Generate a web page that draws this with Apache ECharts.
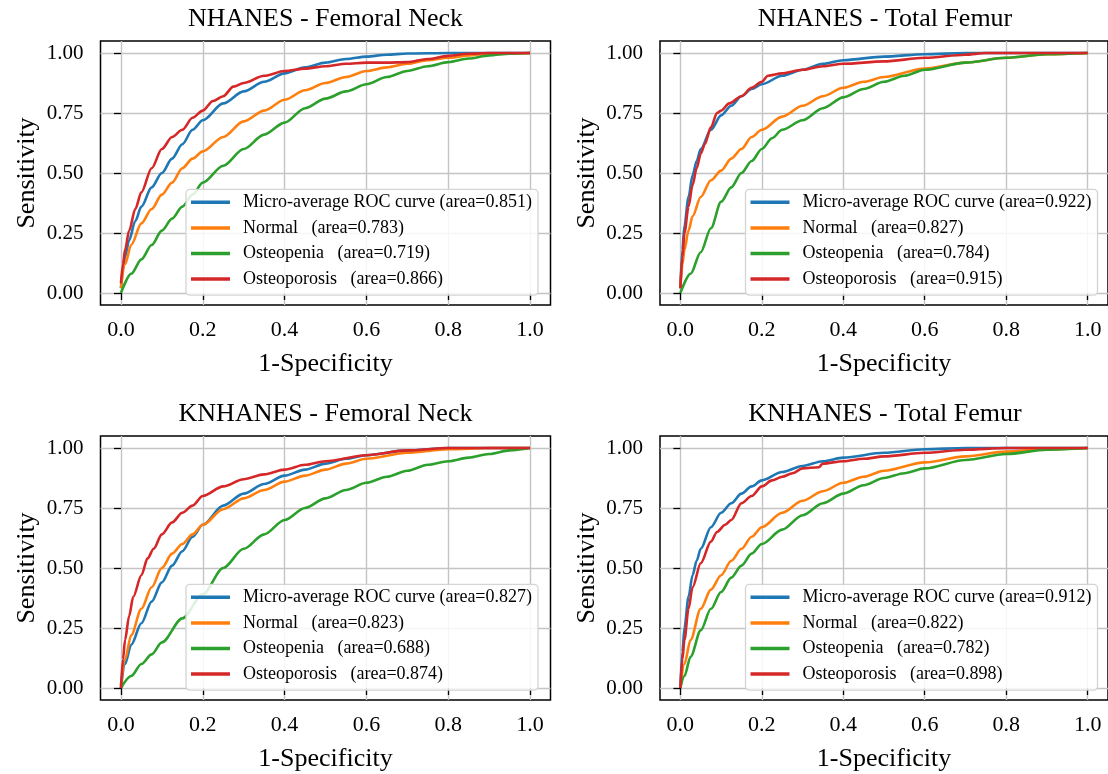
<!DOCTYPE html>
<html>
<head>
<meta charset="utf-8">
<script src="https://cdn.jsdelivr.net/npm/echarts@6/dist/echarts.min.js"></script>
<style>
  html, body { margin: 0; padding: 0; background: #fff; }
  #chart { width: 1108px; height: 774px; }
</style>
</head>
<body>
<div id="chart"></div>
<script>
// tick positions
const xTicks = [0, 0.2, 0.4, 0.6, 0.8, 1.0];
const yTicks = [0, 0.25, 0.5, 0.75, 1.0];

const panelTitles = [
    "NHANES - Femoral Neck",
    "NHANES - Total Femur",
    "KNHANES - Femoral Neck",
    "KNHANES - Total Femur"
];

const classNames = ["Micro-average ROC curve", "Normal", "Osteopenia", "Osteoporosis"];
const classColors = ["#1f77b4", "#ff7f0e", "#2ca02c", "#d62728"];

// areas per panel, same order as classNames
const areas = [
    [0.851, 0.783, 0.719, 0.866],
    [0.922, 0.827, 0.784, 0.915],
    [0.827, 0.823, 0.688, 0.874],
    [0.912, 0.822, 0.782, 0.898]
];

// NHANES - Femoral Neck
const nhFnMicro = [[0,0.02],[0.005,0.1],[0.01,0.15],[0.02,0.22],[0.035,0.3],[0.05,0.36],[0.075,0.44],[0.1,0.5],[0.125,0.56],[0.15,0.62],[0.175,0.68],[0.2,0.72],[0.25,0.79],[0.3,0.84],[0.35,0.88],[0.4,0.915],[0.45,0.94],[0.5,0.96],[0.55,0.975],[0.6,0.985],[0.65,0.993],[0.7,0.998],[0.8,1],[1,1]];
const nhFnNormal = [[0,0.02],[0.01,0.12],[0.025,0.2],[0.05,0.29],[0.075,0.35],[0.1,0.41],[0.125,0.46],[0.15,0.52],[0.175,0.56],[0.2,0.59],[0.25,0.65],[0.3,0.715],[0.35,0.76],[0.4,0.805],[0.45,0.845],[0.5,0.875],[0.55,0.9],[0.6,0.925],[0.65,0.94],[0.7,0.955],[0.75,0.97],[0.8,0.98],[0.85,0.99],[0.9,0.997],[1,1]];
const nhFnOsteopenia = [[0,0],[0.025,0.08],[0.05,0.14],[0.075,0.2],[0.1,0.26],[0.125,0.31],[0.15,0.36],[0.175,0.41],[0.2,0.46],[0.25,0.53],[0.3,0.6],[0.35,0.66],[0.4,0.71],[0.45,0.77],[0.5,0.81],[0.55,0.84],[0.6,0.87],[0.65,0.9],[0.7,0.925],[0.75,0.945],[0.8,0.962],[0.85,0.977],[0.9,0.99],[0.95,0.997],[1,1]];
const nhFnOsteoporosis = [[0,0.04],[0.005,0.12],[0.01,0.18],[0.02,0.26],[0.035,0.35],[0.05,0.42],[0.075,0.52],[0.1,0.6],[0.125,0.65],[0.15,0.68],[0.175,0.73],[0.2,0.76],[0.225,0.8],[0.25,0.82],[0.275,0.86],[0.3,0.875],[0.35,0.905],[0.4,0.925],[0.45,0.935],[0.5,0.945],[0.55,0.955],[0.6,0.96],[0.65,0.96],[0.7,0.962],[0.75,0.975],[0.8,0.988],[0.85,0.997],[0.9,1],[1,1]];

// NHANES - Total Femur
const nhTfMicro = [[0,0.02],[0.005,0.18],[0.01,0.28],[0.02,0.4],[0.03,0.49],[0.04,0.55],[0.05,0.6],[0.075,0.68],[0.1,0.74],[0.125,0.78],[0.15,0.82],[0.175,0.85],[0.2,0.87],[0.25,0.905],[0.3,0.93],[0.35,0.955],[0.4,0.97],[0.5,0.985],[0.6,0.995],[0.7,1],[1,1]];
const nhTfNormal = [[0,0.02],[0.005,0.12],[0.01,0.18],[0.02,0.26],[0.03,0.32],[0.05,0.4],[0.075,0.47],[0.1,0.51],[0.125,0.56],[0.15,0.6],[0.175,0.65],[0.2,0.68],[0.25,0.735],[0.3,0.78],[0.35,0.82],[0.4,0.855],[0.45,0.88],[0.5,0.9],[0.6,0.935],[0.7,0.96],[0.8,0.98],[0.9,0.995],[1,1]];
const nhTfOsteopenia = [[0,0],[0.025,0.08],[0.05,0.17],[0.075,0.27],[0.1,0.38],[0.125,0.44],[0.15,0.5],[0.175,0.55],[0.2,0.6],[0.225,0.645],[0.25,0.68],[0.3,0.72],[0.35,0.77],[0.4,0.815],[0.45,0.85],[0.5,0.88],[0.55,0.905],[0.6,0.93],[0.7,0.96],[0.8,0.98],[0.9,0.995],[1,1]];
const nhTfOsteoporosis = [[0,0.02],[0.005,0.15],[0.01,0.25],[0.02,0.36],[0.03,0.45],[0.04,0.52],[0.05,0.58],[0.06,0.62],[0.075,0.69],[0.09,0.75],[0.1,0.76],[0.12,0.79],[0.15,0.82],[0.175,0.855],[0.2,0.88],[0.215,0.905],[0.25,0.915],[0.3,0.93],[0.35,0.945],[0.4,0.955],[0.5,0.965],[0.6,0.98],[0.7,0.993],[0.75,1],[1,1]];

// KNHANES - Femoral Neck
const knFnMicro = [[0,0],[0.01,0.1],[0.025,0.18],[0.05,0.27],[0.075,0.36],[0.1,0.44],[0.125,0.51],[0.15,0.57],[0.175,0.63],[0.2,0.68],[0.25,0.76],[0.3,0.81],[0.35,0.85],[0.4,0.885],[0.45,0.91],[0.5,0.935],[0.55,0.955],[0.6,0.97],[0.7,0.99],[0.8,1],[1,1]];
const knFnNormal = [[0,0.01],[0.01,0.12],[0.025,0.22],[0.05,0.33],[0.075,0.42],[0.1,0.5],[0.125,0.56],[0.15,0.6],[0.175,0.64],[0.2,0.68],[0.25,0.745],[0.3,0.79],[0.35,0.825],[0.4,0.86],[0.45,0.885],[0.5,0.91],[0.55,0.935],[0.6,0.955],[0.7,0.98],[0.8,0.995],[0.9,1],[1,1]];
const knFnOsteopenia = [[0,0],[0.025,0.05],[0.05,0.1],[0.075,0.14],[0.1,0.19],[0.15,0.29],[0.2,0.39],[0.25,0.5],[0.3,0.58],[0.35,0.64],[0.4,0.7],[0.45,0.75],[0.5,0.79],[0.55,0.825],[0.6,0.855],[0.65,0.88],[0.7,0.905],[0.75,0.93],[0.8,0.945],[0.85,0.96],[0.9,0.975],[0.95,0.99],[1,1]];
const knFnOsteoporosis = [[0,0],[0.005,0.12],[0.01,0.2],[0.02,0.3],[0.03,0.38],[0.05,0.47],[0.065,0.54],[0.08,0.58],[0.1,0.64],[0.125,0.69],[0.15,0.73],[0.175,0.76],[0.2,0.8],[0.25,0.84],[0.3,0.87],[0.35,0.89],[0.4,0.91],[0.45,0.93],[0.5,0.945],[0.6,0.97],[0.7,0.99],[0.8,1],[1,1]];

// KNHANES - Total Femur
const knTfMicro = [[0,0],[0.005,0.15],[0.01,0.25],[0.02,0.38],[0.03,0.47],[0.04,0.53],[0.05,0.58],[0.075,0.67],[0.1,0.73],[0.125,0.77],[0.15,0.81],[0.175,0.84],[0.2,0.865],[0.25,0.9],[0.3,0.925],[0.35,0.945],[0.4,0.96],[0.5,0.98],[0.6,0.995],[0.7,1],[1,1]];
const knTfNormal = [[0,0],[0.01,0.1],[0.025,0.2],[0.05,0.33],[0.075,0.41],[0.1,0.47],[0.125,0.53],[0.15,0.58],[0.175,0.63],[0.2,0.67],[0.25,0.73],[0.3,0.78],[0.35,0.82],[0.4,0.855],[0.45,0.88],[0.5,0.905],[0.6,0.94],[0.7,0.965],[0.8,0.985],[0.9,0.995],[1,1]];
const knTfOsteopenia = [[0,0],[0.01,0.05],[0.025,0.13],[0.05,0.24],[0.075,0.33],[0.1,0.4],[0.125,0.46],[0.15,0.51],[0.175,0.56],[0.2,0.6],[0.25,0.66],[0.3,0.72],[0.35,0.77],[0.4,0.81],[0.45,0.845],[0.5,0.875],[0.55,0.895],[0.6,0.915],[0.7,0.95],[0.8,0.975],[0.9,0.993],[1,1]];
const knTfOsteoporosis = [[0,0],[0.005,0.12],[0.01,0.2],[0.02,0.33],[0.03,0.42],[0.05,0.52],[0.075,0.61],[0.09,0.65],[0.11,0.68],[0.125,0.7],[0.15,0.77],[0.175,0.8],[0.2,0.84],[0.225,0.865],[0.25,0.88],[0.275,0.895],[0.3,0.915],[0.34,0.92],[0.35,0.935],[0.4,0.945],[0.45,0.955],[0.5,0.965],[0.6,0.98],[0.7,0.993],[0.8,1],[1,1]];

const panelCurves = [
    [nhFnMicro, nhFnNormal, nhFnOsteopenia, nhFnOsteoporosis],
    [nhTfMicro, nhTfNormal, nhTfOsteopenia, nhTfOsteoporosis],
    [knFnMicro, knFnNormal, knFnOsteopenia, knFnOsteoporosis],
    [knTfMicro, knTfNormal, knTfOsteopenia, knTfOsteoporosis]
];

const FONT = "'Liberation Serif', 'Times New Roman', serif";
const panelBoxes = [
    { left: 100.5, top: 41 },
    { left: 660, top: 41 },
    { left: 100.5, top: 436 },
    { left: 660, top: 436 }
];
const PW = 450;
const PH = 264;

function labelFor(cls, area) {
    const gap = cls.startsWith("Micro") ? " " : "   ";
    return `${cls}${gap}(area=${area.toFixed(3)})`;
}

const grids = [];
const xAxes = [];
const yAxes = [];
const legends = [];
const titles = [];
const series = [];

panelBoxes.forEach((box, i) => {
    grids.push({
        left: box.left,
        top: box.top,
        width: PW,
        height: PH,
        show: true,
        borderColor: "#000",
        borderWidth: 1.5,
        backgroundColor: "transparent"
    });

    xAxes.push({
        type: "value",
        gridIndex: i,
        min: -0.05,
        max: 1.05,
        axisLine: { show: false },
        axisTick: {
            show: true,
            length: 7,
            customValues: xTicks,
            lineStyle: { color: "#000", width: 1.3 }
        },
        axisLabel: {
            customValues: xTicks,
            formatter: (v) => v.toFixed(1),
            fontFamily: FONT,
            fontSize: 22,
            color: "#000",
            margin: 14
        },
        splitLine: { show: true, lineStyle: { color: "#c4c4c4", width: 1.4 } },
        name: "1-Specificity",
        nameLocation: "middle",
        nameGap: 46,
        nameTextStyle: { fontFamily: FONT, fontSize: 26, color: "#000" }
    });

    yAxes.push({
        type: "value",
        gridIndex: i,
        min: -0.05,
        max: 1.05,
        axisLine: { show: false },
        axisTick: {
            show: true,
            length: 7,
            customValues: yTicks,
            lineStyle: { color: "#000", width: 1.3 }
        },
        axisLabel: {
            customValues: yTicks,
            formatter: (v) => v.toFixed(2),
            fontFamily: FONT,
            fontSize: 21,
            color: "#000",
            margin: 17
        },
        splitLine: { show: true, lineStyle: { color: "#c4c4c4", width: 1.4 } },
        name: "Sensitivity",
        nameLocation: "middle",
        nameGap: 60,
        nameRotate: 90,
        nameTextStyle: { fontFamily: FONT, fontSize: 26, color: "#000" }
    });

    titles.push({
        type: "text",
        x: box.left + PW / 2,
        y: box.top - 22,
        style: {
            text: panelTitles[i],
            fontFamily: FONT,
            fontSize: 26,
            fill: "#000",
            textAlign: "center",
            textVerticalAlign: "middle"
        }
    });

    const names = [];
    panelCurves[i].forEach((curve, k) => {
        const name = labelFor(classNames[k], areas[i][k]);
        names.push(name);
        series.push({
            name,
            type: "line",
            xAxisIndex: i,
            yAxisIndex: i,
            data: curve,
            symbol: "none",
            showSymbol: false,
            smooth: 0.3,
            smoothMonotone: "x",
            color: classColors[k],
            lineStyle: { color: classColors[k], width: 2.6 },
            emphasis: { disabled: true },
            animation: false
        });
    });

    legends.push({
        orient: "vertical",
        left: box.left + 85.5,
        top: box.top + 148.3,
        data: names,
        icon: "rect",
        itemWidth: 39,
        itemHeight: 3.5,
        itemGap: 7.6,
        padding: [4, 6, 7, 5],
        backgroundColor: "rgba(255,255,255,0.85)",
        borderColor: "#d4d4d4",
        borderWidth: 1.3,
        borderRadius: 4,
        selectedMode: false,
        textStyle: {
            fontFamily: FONT,
            fontSize: 18,
            lineHeight: 18,
            color: "#000",
            padding: [0, 0, 0, 8]
        }
    });
});

const chart = echarts.init(document.getElementById("chart"), null, { renderer: "canvas" });
chart.setOption({
    backgroundColor: "#fff",
    animation: false,
    grid: grids,
    xAxis: xAxes,
    yAxis: yAxes,
    legend: legends,
    graphic: titles,
    series
});
</script>
</body>
</html>
